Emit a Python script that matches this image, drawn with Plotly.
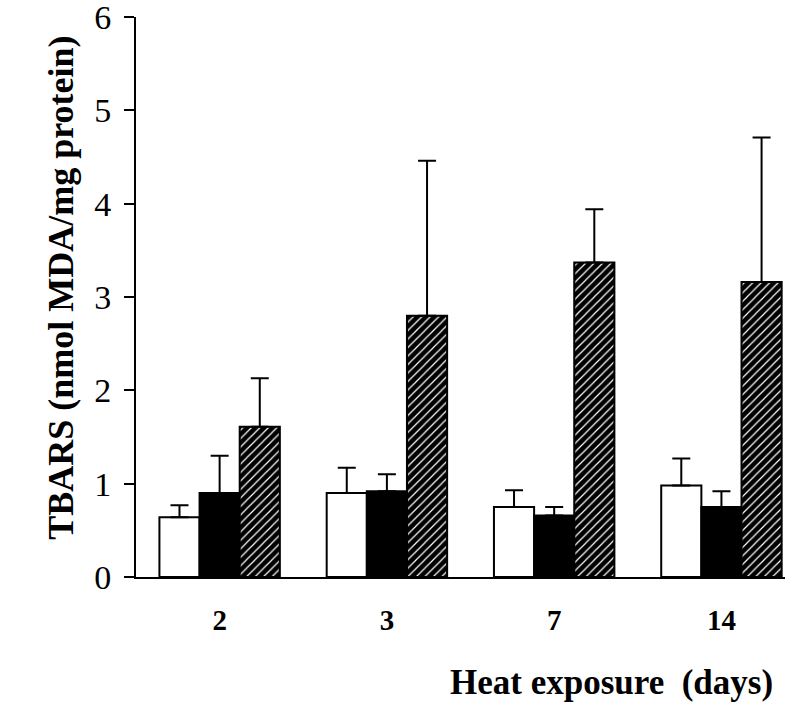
import plotly.graph_objects as go

# Heat exposure duration (days)
days = ["2", "3", "7", "14"]

# TBARS means (nmol MDA/mg protein) and upper error (SEM) per group
open_mean = [0.64, 0.90, 0.75, 0.98]
open_err = [0.13, 0.27, 0.18, 0.29]

solid_mean = [0.90, 0.92, 0.66, 0.75]
solid_err = [0.40, 0.18, 0.09, 0.17]

hatch_mean = [1.61, 2.80, 3.37, 3.16]
hatch_err = [0.52, 1.66, 0.57, 1.55]

y_ticks = [0, 1, 2, 3, 4, 5, 6]

x = list(range(len(days)))
serif = "Liberation Serif, Times New Roman, serif"


def err(vals):
    return dict(type="data", array=vals, arrayminus=[0] * len(vals),
                symmetric=False, color="black", thickness=2, width=9)


fig = go.Figure()
fig.add_trace(go.Bar(
    x=x, y=open_mean, name="open",
    marker=dict(color="white", line=dict(color="black", width=2)),
    error_y=err(open_err),
))
fig.add_trace(go.Bar(
    x=x, y=solid_mean, name="solid",
    marker=dict(color="black", line=dict(color="black", width=2)),
    error_y=err(solid_err),
))
fig.add_trace(go.Bar(
    x=x, y=hatch_mean, name="hatched",
    marker=dict(color="black", line=dict(color="black", width=2),
                pattern=dict(shape="/", fgcolor="white", bgcolor="black",
                             size=6, solidity=0.2, fillmode="replace")),
    error_y=err(hatch_err),
))

fig.update_layout(
    width=802, height=706,
    margin=dict(l=136, r=17, t=17, b=129, autoexpand=False),
    paper_bgcolor="white", plot_bgcolor="white",
    barmode="group", bargap=0.28, bargroupgap=0,
    showlegend=False,
    font=dict(family=serif, color="black"),
    xaxis=dict(
        range=[-0.5, 3.38], tickvals=x, ticktext=days,
        tickfont=dict(size=29, family=serif, weight="bold"),
        showline=True, linecolor="black", linewidth=2,
        ticks="", showgrid=False, zeroline=False,
        ticklabelstandoff=16, automargin=False,
    ),
    yaxis=dict(
        range=[0, 6], tickvals=y_ticks,
        tickfont=dict(size=34, family=serif),
        showline=True, linecolor="black", linewidth=2,
        ticks="outside", ticklen=10, tickwidth=2, tickcolor="black",
        showgrid=False, zeroline=False,
        ticklabelstandoff=6, ticklabeloverflow="allow", automargin=False,
    ),
    annotations=[
        dict(
            text="TBARS (nmol MDA/mg protein)", xref="paper", yref="paper",
            x=-0.116, y=0.516, xanchor="center", yanchor="middle",
            textangle=-90, showarrow=False,
            font=dict(size=36, family=serif, weight="bold"),
        ),
        dict(
            text="Heat exposure  (days)", xref="paper", yref="paper",
            x=0.985, y=-0.1875, xanchor="right", yanchor="middle",
            showarrow=False,
            font=dict(size=35, family=serif, weight="bold"),
        ),
    ],
)

fig.write_html("out.html")
